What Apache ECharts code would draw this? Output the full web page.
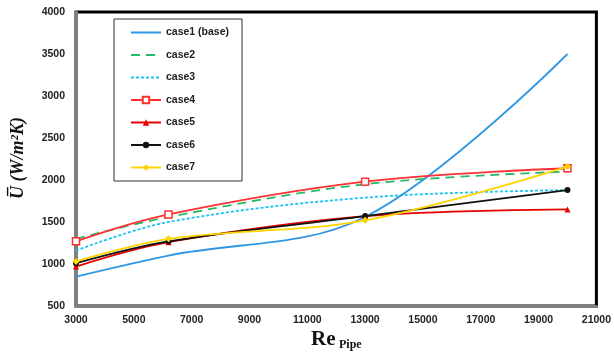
<!DOCTYPE html>
<html>
<head>
<meta charset="utf-8">
<script src="https://cdn.jsdelivr.net/npm/echarts@6/dist/echarts.min.js"></script>
<style>
  html, body { margin: 0; padding: 0; background: #fff; }
  #chart { width: 614px; height: 356px; }
</style>
</head>
<body>
<div id="chart"></div>
<script>
// Re_pipe 数据点
var rePipe = [3000, 6200, 13000, 20000];
var case1 = [850, 1100, 1560, 3500];
var case2 = [1300, 1560, 1950, 2100];
var case3 = [1160, 1500, 1790, 1880];
var case4 = [1270, 1590, 1980, 2140];
var case5 = [970, 1260, 1570, 1650];
var case6 = [1010, 1270, 1570, 1880];
var case7 = [1030, 1300, 1520, 2160];
var caseNames = ['case1 (base)', 'case2', 'case3', 'case4', 'case5', 'case6', 'case7'];

function pairs(ys) {
    return rePipe.map(function (x, i) { return [x, ys[i]]; });
}

var dom = echarts.init(document.getElementById('chart'));

// 各条线的样式
var styles = [
    { data: case1, color: '#2f98e6', type: 'solid', symbol: 'none', z: 4 },
    { data: case2, color: '#27b96a', type: [9, 6], symbol: 'none', z: 5 },
    { data: case3, color: '#19c4f2', type: [3, 2], symbol: 'none', z: 3 },
    { data: case4, color: '#ff3030', type: 'solid', symbol: 'rect', size: 7, fill: '#fff', z: 6 },
    { data: case5, color: '#e60000', type: 'solid', symbol: 'triangle', size: 6, z: 7 },
    { data: case6, color: '#111', type: 'solid', symbol: 'circle', size: 6, z: 8 },
    { data: case7, color: '#ffd400', type: 'solid', symbol: 'diamond', size: 7, z: 9 }
];

var series = styles.map(function (s, i) {
    return {
        name: caseNames[i],
        type: 'line',
        smooth: 0.35,
        data: pairs(s.data),
        symbol: s.symbol,
        symbolSize: s.size || 0,
        showSymbol: s.symbol !== 'none',
        lineStyle: { color: s.color, width: 1.8, type: s.type },
        itemStyle: {
            color: s.fill || s.color,
            borderColor: s.color,
            borderWidth: s.fill ? 1.5 : 0
        },
        z: s.z
    };
});

// 图例：无标记的线不画圆点
var legendData = caseNames.map(function (name, i) {
    if (styles[i].symbol === 'none') {
        return { name: name, itemStyle: { opacity: 0 } };
    }
    return { name: name };
});

var option = {
    backgroundColor: '#fff',
    animation: false,
    grid: {
        left: 76, top: 12, width: 521, height: 294,
        show: true,
        borderColor: '#000',
        borderWidth: 3,
        backgroundColor: 'transparent'
    },
    legend: {
        orient: 'vertical',
        left: 114,
        top: 19,
        data: legendData,
        itemWidth: 30,
        itemHeight: 8,
        itemGap: 11.5,
        padding: [8, 13, 8, 16],
        borderColor: '#333',
        borderWidth: 1,
        backgroundColor: '#fff',
        textStyle: {
            color: '#222',
            fontSize: 10.5,
            fontWeight: 'bold',
            fontFamily: 'Liberation Sans'
        }
    },
    xAxis: {
        type: 'value',
        min: 3000,
        max: 21000,
        interval: 2000,
        splitLine: { show: false },
        axisTick: { show: false },
        axisLine: { lineStyle: { color: '#7f7f7f', width: 3 } },
        axisLabel: {
            margin: 9,
            color: '#222',
            fontSize: 10.5,
            fontWeight: 'bold',
            fontFamily: 'Liberation Sans',
            formatter: function (v) { return String(v); }
        }
    },
    yAxis: {
        type: 'value',
        min: 500,
        max: 4000,
        interval: 500,
        splitLine: { show: false },
        axisTick: { show: false },
        axisLine: { show: true, lineStyle: { color: '#7f7f7f', width: 3 } },
        axisLabel: {
            margin: 11,
            color: '#222',
            fontSize: 10.5,
            fontWeight: 'bold',
            fontFamily: 'Liberation Sans',
            formatter: function (v) { return String(v); }
        }
    },
    graphic: [
        {
            type: 'text',
            x: 18,
            y: 158,
            rotation: Math.PI / 2,
            style: {
                text: 'U\u0305 (W/m\u00b2K)',
                fontFamily: 'Liberation Serif',
                fontStyle: 'italic',
                fontWeight: 'bold',
                fontSize: 18,
                fill: '#111',
                align: 'center',
                verticalAlign: 'middle'
            }
        },
        {
            type: 'text',
            left: 311,
            top: 329,
            style: {
                text: 'Re',
                fontFamily: 'Liberation Serif',
                fontWeight: 'bold',
                fontSize: 21,
                fill: '#111'
            }
        },
        {
            type: 'text',
            left: 339,
            top: 339,
            style: {
                text: 'Pipe',
                fontFamily: 'Liberation Serif',
                fontWeight: 'bold',
                fontSize: 12,
                fill: '#111'
            }
        }
    ],
    series: series
};

dom.setOption(option);
</script>
</body>
</html>
